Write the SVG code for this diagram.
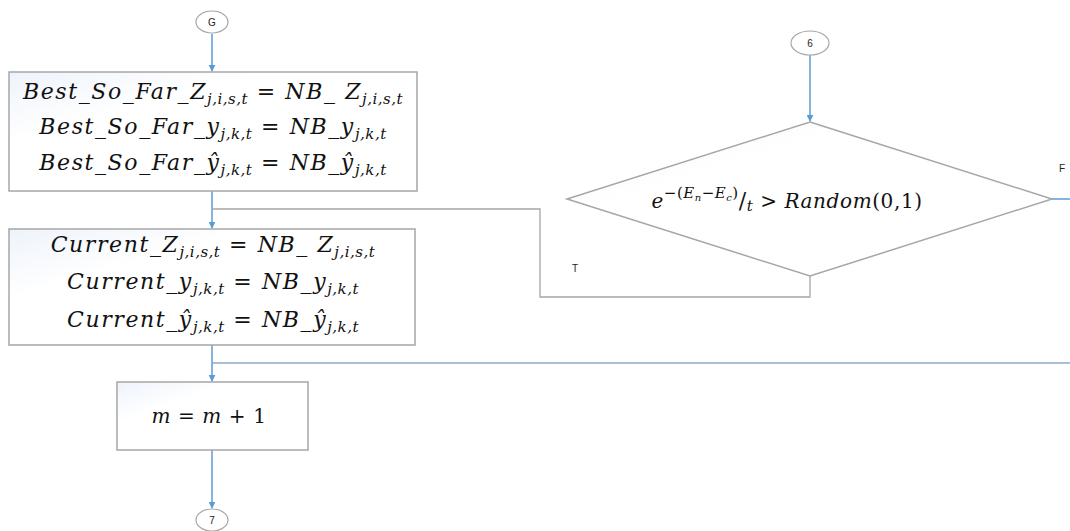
<svg xmlns="http://www.w3.org/2000/svg" width="1070" height="531" viewBox="0 0 1070 531">
<defs>
<marker id="arr" viewBox="0 0 10 10" refX="9" refY="5" markerWidth="7" markerHeight="7" orient="auto" markerUnits="userSpaceOnUse">
<path d="M0,0 L10,5 L0,10 z" fill="#5b9bd5"/>
</marker>
<linearGradient id="bg" x1="0" y1="0" x2="1" y2="1">
<stop offset="0" stop-color="#eef3fb"/>
<stop offset="0.3" stop-color="#ffffff"/>
<stop offset="1" stop-color="#ffffff"/>
</linearGradient>
</defs>
<style>
.box{fill:url(#bg);stroke:#a6a6a6;stroke-width:1.5}
.circ{fill:#ffffff;stroke:#a6a6a6;stroke-width:1.2}
.conn{fill:none;stroke:#5b9bd5;stroke-width:1.5}
.conn2{fill:none;stroke:#8ea9c8;stroke-width:1.3}
.gl{fill:none;stroke:#a6a6a6;stroke-width:1.3}
.m{font-family:"DejaVu Serif","Liberation Serif",serif;font-style:italic;font-size:22px;fill:#111;letter-spacing:1.6px}
.d{font-family:"DejaVu Serif","Liberation Serif",serif;font-style:italic;font-size:20px;fill:#111;letter-spacing:0.6px}
.up{font-style:normal}
.s{font-size:15px;letter-spacing:0.5px}
.lbl{font-family:"Liberation Sans",Arial,sans-serif;font-size:10px;fill:#222}
</style>
<rect width="1070" height="531" fill="#ffffff"/>
<g id="connectors">
<line class="conn" x1="212" y1="34" x2="212" y2="71" marker-end="url(#arr)"/>
<line class="conn" x1="212" y1="191" x2="212" y2="228" marker-end="url(#arr)"/>
<polyline class="gl" points="810,276 810,297 540,297 540,209 212,209"/>
<line class="conn" x1="810" y1="55" x2="810" y2="121" marker-end="url(#arr)"/>
<line class="conn" x1="1052" y1="199" x2="1070" y2="199"/>
<line class="conn" x1="212" y1="345" x2="212" y2="381" marker-end="url(#arr)"/>
<line class="conn2" x1="212" y1="363" x2="1070" y2="363"/>
<line class="conn" x1="212" y1="450" x2="212" y2="508" marker-end="url(#arr)"/>
</g>
<g id="nodeG">
<ellipse class="circ" cx="212" cy="22" rx="16" ry="11"/>
<text class="lbl" x="212" y="25.5" text-anchor="middle">G</text>
</g>
<g id="box1">
<rect class="box" x="9" y="72" width="408" height="119"/>
<text class="m" x="213" y="99" text-anchor="middle">Best_So_Far_Z<tspan class="s" dy="5">j,i,s,t</tspan><tspan dy="-5" class="up"> = </tspan>NB_ Z<tspan class="s" dy="5">j,i,s,t</tspan></text>
<text class="m" x="213" y="134" text-anchor="middle">Best_So_Far_y<tspan class="s" dy="5">j,k,t</tspan><tspan dy="-5" class="up"> = </tspan>NB_y<tspan class="s" dy="5">j,k,t</tspan></text>
<text class="m" x="213" y="170" text-anchor="middle">Best_So_Far_ŷ<tspan class="s" dy="5">j,k,t</tspan><tspan dy="-5" class="up"> = </tspan>NB_ŷ<tspan class="s" dy="5">j,k,t</tspan></text>
</g>
<g id="box2">
<rect class="box" x="9" y="229" width="406" height="116"/>
<text class="m" x="213" y="252" text-anchor="middle">Current_Z<tspan class="s" dy="5">j,i,s,t</tspan><tspan dy="-5" class="up"> = </tspan>NB_ Z<tspan class="s" dy="5">j,i,s,t</tspan></text>
<text class="m" x="213" y="289" text-anchor="middle">Current_y<tspan class="s" dy="5">j,k,t</tspan><tspan dy="-5" class="up"> = </tspan>NB_y<tspan class="s" dy="5">j,k,t</tspan></text>
<text class="m" x="213" y="327" text-anchor="middle">Current_ŷ<tspan class="s" dy="5">j,k,t</tspan><tspan dy="-5" class="up"> = </tspan>NB_ŷ<tspan class="s" dy="5">j,k,t</tspan></text>
</g>
<g id="box3">
<rect class="box" x="117" y="382" width="191" height="68"/>
<text class="d" x="209" y="423" text-anchor="middle">m<tspan class="up"> = </tspan>m<tspan class="up"> + 1</tspan></text>
</g>
<g id="node7">
<ellipse class="circ" cx="212" cy="520" rx="16" ry="11"/>
<text class="lbl" x="212" y="523.5" text-anchor="middle">7</text>
</g>
<g id="node6">
<ellipse class="circ" cx="810" cy="43" rx="19" ry="12"/>
<text class="lbl" x="810" y="46.5" text-anchor="middle">6</text>
</g>
<g id="decision">
<polygon class="box" points="810,122 1052,199 810,276 567,199"/>
<text class="d" x="787" y="208" text-anchor="middle">e<tspan class="s" dy="-10"><tspan class="up">−(</tspan>E<tspan font-size="10" dy="3">n</tspan><tspan class="up" dy="-3">−</tspan>E<tspan font-size="10" dy="3">c</tspan><tspan class="up" dy="-3">)</tspan></tspan><tspan dy="10" class="up" font-size="22">/</tspan><tspan class="s" dy="3">t</tspan><tspan class="up" dy="-3"> &gt; </tspan>Random<tspan class="up">(0,1)</tspan></text>
</g>
<g id="labels">
<text class="lbl" x="1059" y="172">F</text>
<text class="lbl" x="572" y="272">T</text>
</g>
</svg>
